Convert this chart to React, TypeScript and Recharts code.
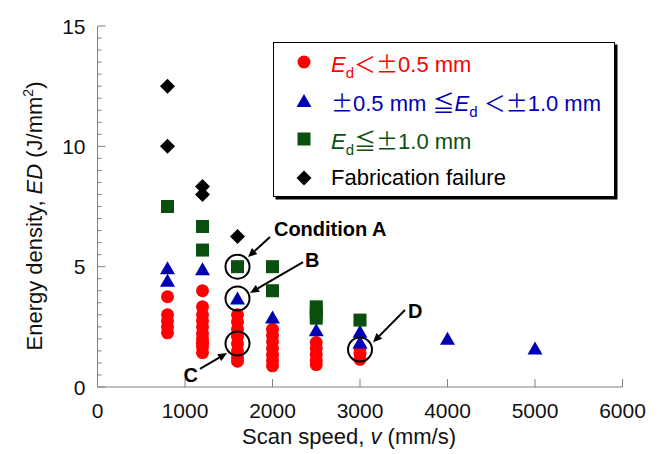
import React from "react";
import {
  ScatterChart,
  Scatter,
  XAxis,
  YAxis,
  Legend,
  ReferenceDot,
  ReferenceLine,
} from "recharts";

// tick values
const xTicks = [0, 1000, 2000, 3000, 4000, 5000, 6000];
const yTicks = [
  0, 0.5, 1, 1.5, 2, 2.5, 3, 3.5, 4, 4.5, 5, 5.5, 6, 6.5, 7, 7.5, 8, 8.5, 9,
  9.5, 10, 10.5, 11, 11.5, 12, 12.5, 13, 13.5, 14, 14.5, 15,
];
const yLabels = [0, 5, 10, 15];

// Ed < ±0.5 mm
const goodSpeed = [
  800, 800, 800, 800, 800,
  1200, 1200, 1200, 1200, 1200, 1200, 1200, 1200, 1200, 1200,
  1600, 1600, 1600, 1600, 1600, 1600, 1600, 1600,
  2000, 2000, 2000, 2000, 2000, 2000, 2000,
  2500, 2500, 2500, 2500, 2500,
  3000, 3000, 3000,
];
const goodED = [
  3.75, 3.0, 2.75, 2.5, 2.25,
  4.0, 3.33, 3.0, 2.75, 2.5, 2.22, 2.0, 1.82, 1.67, 1.43,
  3.0, 2.7, 2.4, 2.1, 1.8, 1.5, 1.25, 1.07,
  2.4, 2.14, 1.88, 1.6, 1.33, 1.1, 0.88,
  1.85, 1.6, 1.35, 1.1, 0.93,
  1.6, 1.4, 1.15,
];

// ±0.5 mm ≦ Ed < ±1.0 mm
const midSpeed = [800, 800, 1200, 1600, 2000, 2500, 3000, 3000, 4000, 5000];
const midED = [4.93, 4.42, 4.89, 3.68, 2.89, 2.36, 2.3, 1.85, 2.0, 1.6];

// Ed ≧ ±1.0 mm
const poorSpeed = [800, 1200, 1200, 1600, 2000, 2000, 2500, 2500, 2500, 3000];
const poorED = [7.5, 6.67, 5.69, 5.0, 5.0, 4.0, 3.33, 3.1, 2.86, 2.78];

// fabrication failure
const failSpeed = [800, 800, 1200, 1200, 1600];
const failED = [12.5, 10.0, 8.33, 8.0, 6.25];

const zip = (v: number[], ed: number[]) => v.map((x, i) => ({ v: x, ed: ed[i] }));
const goodData = zip(goodSpeed, goodED);
const midData = zip(midSpeed, midED);
const poorData = zip(poorSpeed, poorED);
const failData = zip(failSpeed, failED);

const RED = "#ff0000";
const BLUE = "#0000b4";
const GREEN = "#0b4f10";
const AXIS = "#808080";
const FONT = "'Liberation Sans', Arial, 'Noto Sans CJK JP', sans-serif";

const Circle = ({ cx, cy }: any) => <circle cx={cx} cy={cy} r={6.5} fill={RED} />;
const Tri = ({ cx, cy }: any) => (
  <polygon points={`${cx},${cy - 7} ${cx + 7.5},${cy + 6} ${cx - 7.5},${cy + 6}`} fill={BLUE} />
);
const Sq = ({ cx, cy }: any) => (
  <rect x={cx - 6.5} y={cy - 6.5} width={13} height={13} fill={GREEN} />
);
const Dia = ({ cx, cy }: any) => (
  <polygon points={`${cx},${cy - 7.5} ${cx + 7.5},${cy} ${cx},${cy + 7.5} ${cx - 7.5},${cy}`} fill="#000" />
);
const Nothing = () => <g />;

const BottomTick = ({ x, y, payload }: any) => (
  <g>
    <line x1={x} y1={y} x2={x} y2={y - 8} stroke={AXIS} />
    <text x={x} y={y + 31} textAnchor="middle" fontSize={21} fontFamily={FONT} fill="#111">
      {payload.value}
    </text>
  </g>
);
const TopTick = ({ x, y }: any) => <line x1={x} y1={y} x2={x} y2={y + 8} stroke={AXIS} />;
const LeftTick = ({ x, y, payload }: any) => {
  const major = yLabels.includes(payload.value);
  return (
    <g>
      <line x1={x} y1={y} x2={x + (major ? 8 : 4)} y2={y} stroke={AXIS} />
      {major && (
        <text x={x - 12} y={y + 7.5} textAnchor="end" fontSize={21} fontFamily={FONT} fill="#111">
          {payload.value}
        </text>
      )}
    </g>
  );
};
const RightTick = ({ x, y, payload }: any) => {
  const major = yLabels.includes(payload.value);
  return <line x1={x} y1={y} x2={x - (major ? 8 : 4)} y2={y} stroke={AXIS} />;
};

const Arrow = ({ x1, y1, x2, y2, text, dx, dy, anchor }: any) => {
  const a = Math.atan2(y2 - y1, x2 - x1);
  const L = 9;
  const W = 4;
  const bx = x2 - L * Math.cos(a);
  const by = y2 - L * Math.sin(a);
  const pts = `${x2},${y2} ${bx + W * Math.sin(a)},${by - W * Math.cos(a)} ${bx - W * Math.sin(a)},${by + W * Math.cos(a)}`;
  return (
    <g>
      <line x1={x1} y1={y1} x2={bx} y2={by} stroke="#000" strokeWidth={2} />
      <polygon points={pts} fill="#000" />
      <text
        x={x1 + dx}
        y={y1 + dy}
        textAnchor={anchor || "start"}
        fontSize={20}
        fontWeight="bold"
        fontFamily={FONT}
        fill="#000"
      >
        {text}
      </text>
    </g>
  );
};

const Ed = () => (
  <>
    <i>E</i>
    <sub style={{ fontSize: 15, verticalAlign: "-0.4em", lineHeight: 0 }}>d</sub>
  </>
);
const PM = () => (
  <span style={{ fontFamily: "'Noto Sans CJK JP'", fontFeatureSettings: '"fwid"' }}>±</span>
);

const legendOrder = ["good", "mid", "poor", "fail"];
const legendText: Record<string, { color: string; node: React.ReactNode; mark: any }> = {
  good: { color: RED, node: <><Ed />＜<PM />0.5 mm</>, mark: Circle },
  mid: { color: BLUE, node: <><PM />0.5 mm ≦<Ed /> ＜<PM />1.0 mm</>, mark: Tri },
  poor: { color: GREEN, node: <><Ed />≦<PM />1.0 mm</>, mark: Sq },
  fail: { color: "#000", node: <>Fabrication failure</>, mark: Dia },
};

const renderLegend = ({ payload }: any) => {
  const items = (payload || [])
    .filter((p: any) => legendText[p.value])
    .sort((a: any, b: any) => legendOrder.indexOf(a.value) - legendOrder.indexOf(b.value));
  return (
    <div
      style={{
        boxSizing: "border-box",
        width: 342,
        height: 155,
        border: "1.5px solid #000",
        boxShadow: "2.5px 2.5px 0 #000",
        background: "#fff",
        position: "relative",
        fontFamily: FONT,
        fontSize: 22,
      }}
    >
      {items.map((p: any, i: number) => {
        const item = legendText[p.value];
        const Mark = item.mark;
        return (
          <div
            key={p.value}
            style={{
              position: "absolute",
              left: 0,
              top: i * 38.7,
              height: 38,
              lineHeight: "38px",
              whiteSpace: "nowrap",
              color: item.color,
            }}
          >
            <svg width={20} height={20} style={{ position: "absolute", left: 20, top: 9 }}>
              <Mark cx={10} cy={10} />
            </svg>
            <span style={{ position: "absolute", left: 57 }}>{item.node}</span>
          </div>
        );
      })}
    </div>
  );
};

export default function App() {
  return (
    <div style={{ position: "absolute", left: 0, top: 0, width: 666, height: 454, background: "#fff" }}>
      <ScatterChart
        width={666}
        height={454}
        margin={{ top: 26, right: 43.5, bottom: 27, left: 37.5 }}
      >
        <XAxis
          dataKey="v"
          type="number"
          domain={[0, 6000]}
          ticks={xTicks}
          interval={0}
          height={40}
          tickSize={0}
          tickMargin={0}
          tickLine={false}
          axisLine={{ stroke: AXIS }}
          tick={<BottomTick />}
          label={{
            content: () => (
              <text x={349} y={444} textAnchor="middle" fontSize={22} fontFamily={FONT} fill="#111">
                Scan speed, <tspan fontStyle="italic">v</tspan> (mm/s)
              </text>
            ),
          }}
        />
        <XAxis
          xAxisId="t"
          dataKey="v"
          orientation="top"
          type="number"
          domain={[0, 6000]}
          ticks={xTicks}
          interval={0}
          height={0}
          tickSize={0}
          tickMargin={0}
          tickLine={false}
          axisLine={{ stroke: AXIS }}
          tick={<TopTick />}
        />
        <YAxis
          dataKey="ed"
          type="number"
          domain={[0, 15]}
          ticks={yTicks}
          interval={0}
          width={60}
          tickSize={0}
          tickMargin={0}
          tickLine={false}
          axisLine={{ stroke: AXIS }}
          tick={<LeftTick />}
          label={{
            content: () => (
              <text
                transform="translate(42,216) rotate(-90)"
                textAnchor="middle"
                fontSize={22}
                fontFamily={FONT}
                fill="#111"
              >
                Energy density, <tspan fontStyle="italic">ED</tspan> (J/mm
                <tspan fontSize={14} dy={-9}>2</tspan>
                <tspan dy={9}>)</tspan>
              </text>
            ),
          }}
        />
        <YAxis
          yAxisId="r"
          dataKey="ed"
          orientation="right"
          type="number"
          domain={[0, 15]}
          ticks={yTicks}
          interval={0}
          width={0}
          tickSize={0}
          tickMargin={0}
          tickLine={false}
          axisLine={{ stroke: AXIS }}
          tick={<RightTick />}
        />
        <Legend
          layout="vertical"
          align="center"
          verticalAlign="middle"
          wrapperStyle={{ left: 273, top: 42, width: 342, height: 155 }}
          content={renderLegend}
        />
        <Scatter name="good" data={goodData} shape={<Circle />} isAnimationActive={false} />
        <Scatter name="mid" data={midData} shape={<Tri />} isAnimationActive={false} />
        <Scatter name="poor" data={poorData} shape={<Sq />} isAnimationActive={false} />
        <Scatter name="fail" data={failData} shape={<Dia />} isAnimationActive={false} />
        {/* binds the mirrored frame axes so they draw */}
        <Scatter
          name="frame"
          xAxisId="t"
          yAxisId="r"
          data={failData}
          shape={<Nothing />}
          legendType="none"
          isAnimationActive={false}
        />

        <ReferenceDot x={1600} y={5.0} r={12} fill="none" stroke="#000" strokeWidth={2} />
        <ReferenceDot x={1600} y={3.68} r={12} fill="none" stroke="#000" strokeWidth={2} />
        <ReferenceDot x={1600} y={1.81} r={12} fill="none" stroke="#000" strokeWidth={2} />
        <ReferenceDot x={3000} y={1.56} r={12} fill="none" stroke="#000" strokeWidth={2} />

        <ReferenceLine
          segment={[{ x: 1971, y: 6.23 }, { x: 1720, y: 5.4 }]}
          shape={(p: any) => <Arrow {...p} text="Condition A" dx={4} dy={-1} />}
        />
        <ReferenceLine
          segment={[{ x: 2349, y: 5.19 }, { x: 1743, y: 3.91 }]}
          shape={(p: any) => <Arrow {...p} text="B" dx={2} dy={5} />}
        />
        <ReferenceLine
          segment={[{ x: 1171, y: 0.75 }, { x: 1480, y: 1.41 }]}
          shape={(p: any) => <Arrow {...p} text="C" dx={-2} dy={13} anchor="end" />}
        />
        <ReferenceLine
          segment={[{ x: 3514, y: 3.2 }, { x: 3149, y: 1.86 }]}
          shape={(p: any) => <Arrow {...p} text="D" dx={3} dy={8} />}
        />
      </ScatterChart>
    </div>
  );
}
